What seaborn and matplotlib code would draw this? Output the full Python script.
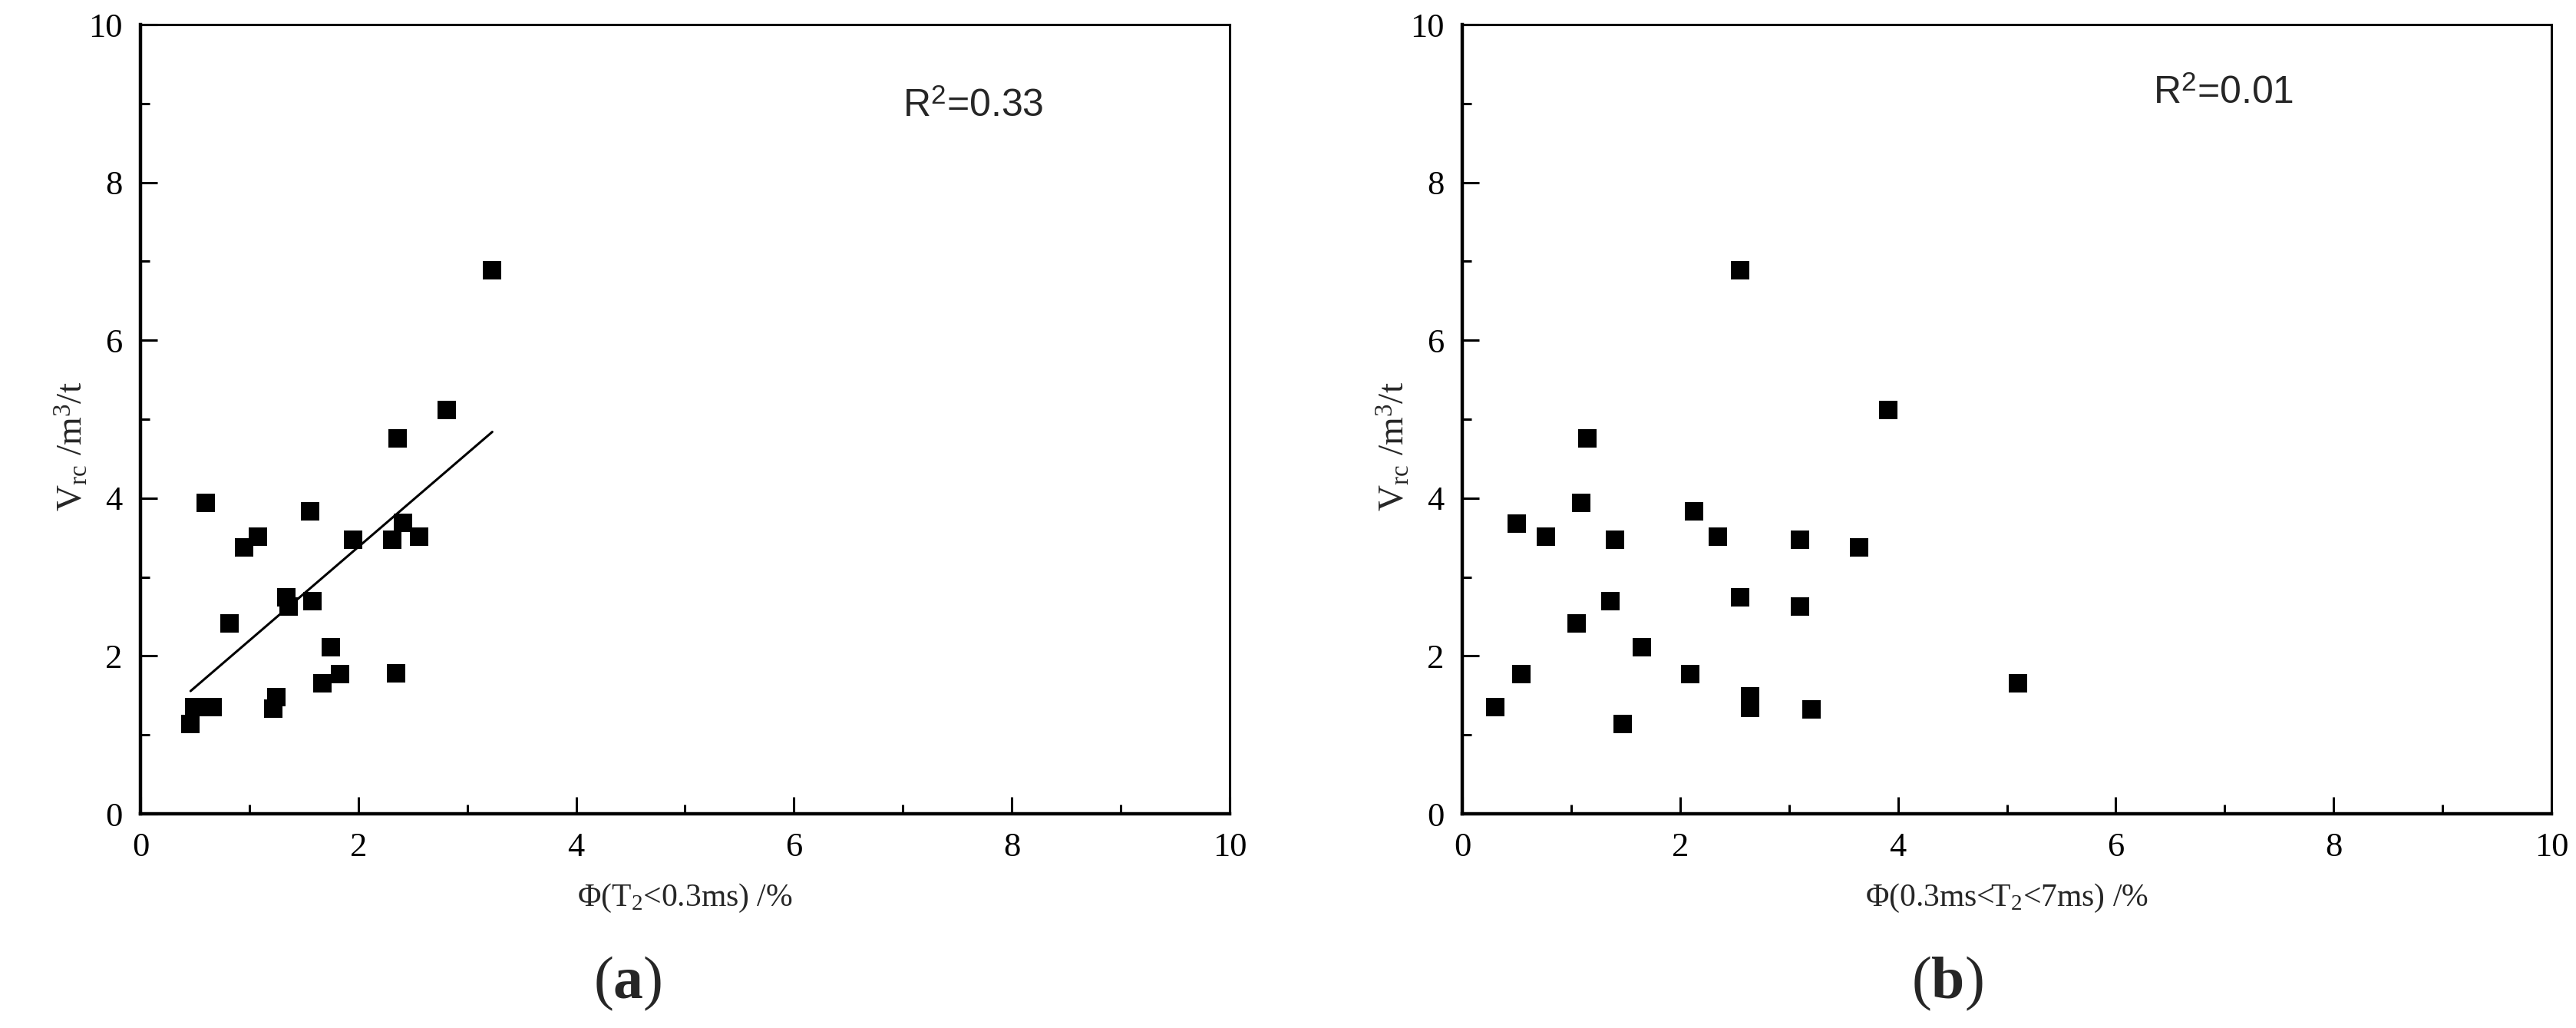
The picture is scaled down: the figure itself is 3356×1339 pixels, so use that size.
import numpy as np
import matplotlib
matplotlib.use("Agg")
import matplotlib.pyplot as plt
from matplotlib.ticker import MultipleLocator
import seaborn as sns
import pandas as pd

# values
vrc_a = [6.89, 5.12, 4.76, 3.94, 3.83, 3.69, 3.51, 3.38, 3.47, 3.47, 3.51, 2.74,
         2.63, 2.69, 2.41, 2.11, 1.77, 1.65, 1.78, 1.48, 1.33, 1.35, 1.35, 1.14]
phi_short = [3.23, 2.81, 2.36, 0.60, 1.56, 2.41, 1.08, 0.95, 1.95, 2.31, 2.56, 1.34,
             1.36, 1.58, 0.82, 1.75, 1.83, 1.67, 2.35, 1.25, 1.22, 0.49, 0.66, 0.46]

vrc_b = [6.89, 5.12, 4.76, 3.94, 3.83, 3.68, 3.51, 3.47, 3.51, 3.47, 3.38, 2.69,
         2.74, 2.63, 2.41, 2.11, 1.77, 1.77, 1.65, 1.49, 1.34, 1.32, 1.35, 1.14]
phi_mid = [2.55, 3.91, 1.15, 1.09, 2.13, 0.50, 0.77, 1.40, 2.35, 3.10, 3.64, 1.36,
           2.55, 3.10, 1.05, 1.65, 0.54, 2.09, 5.10, 2.64, 2.64, 3.21, 0.30, 1.47]

r2_labels = [r"R$^\mathsf{2}$=0.33", r"R$^\mathsf{2}$=0.01"]
x_labels = [r"Φ(T$_2$<0.3ms) /%", r"Φ(0.3ms<T$_2$<7ms) /%"]
captions = [r"$(\mathbf{a})$", r"$(\mathbf{b})$"]

df_a = pd.DataFrame({"x": phi_short, "y": vrc_a})
df_b = pd.DataFrame({"x": phi_mid, "y": vrc_b})

sns.set_style("ticks")
plt.rcParams["font.family"] = ["Liberation Serif", "DejaVu Serif"]
plt.rcParams["mathtext.fontset"] = "custom"
plt.rcParams["mathtext.rm"] = "Liberation Serif"
plt.rcParams["mathtext.it"] = "Liberation Serif:italic"
plt.rcParams["mathtext.bf"] = "Liberation Serif:bold"
plt.rcParams["mathtext.sf"] = "Liberation Sans"

fig = plt.figure(figsize=(33.56, 13.39), dpi=100)
W, H = 3356, 1339
ax_a = fig.add_axes([183 / W, 1 - 1060 / H, 1419 / W, 1028 / H])
ax_b = fig.add_axes([1905 / W, 1 - 1060 / H, 1419 / W, 1028 / H])

for ax, df, fit in [(ax_a, df_a, True), (ax_b, df_b, False)]:
    sns.scatterplot(data=df, x="x", y="y", ax=ax, marker="s", s=300,
                    color="black", linewidth=0, clip_on=False)
    if fit:
        sns.regplot(data=df, x="x", y="y", ax=ax, scatter=False, ci=None,
                    color="black", line_kws={"lw": 2.2})

for i, ax in enumerate([ax_a, ax_b]):
    ax.set_xlim(0, 10)
    ax.set_ylim(0, 10)
    ax.xaxis.set_major_locator(MultipleLocator(2))
    ax.xaxis.set_minor_locator(MultipleLocator(1))
    ax.yaxis.set_major_locator(MultipleLocator(2))
    ax.yaxis.set_minor_locator(MultipleLocator(1))
    ax.tick_params(which="both", direction="in", width=2.2, colors="black",
                   top=False, right=False, labelsize=32, pad=17)
    ax.tick_params(which="major", length=16)
    ax.tick_params(which="minor", length=8.5)
    for side in ["left", "bottom"]:
        ax.spines[side].set_linewidth(3.2)
    for side in ["top", "right"]:
        ax.spines[side].set_linewidth(2.2)
    for sp in ax.spines.values():
        sp.set_color("black")
    ax.set_xlabel(x_labels[i], fontsize=30, labelpad=18)
    ax.set_ylabel(r"$\mathrm{V_{rc}}$ /m$^{3}$/t", fontsize=34)
    ax.yaxis.set_label_coords(-0.046, 0.465)

ax_a.text(7.0, 8.83, r2_labels[0], fontsize=36, family=["Liberation Sans", "DejaVu Sans"],
          va="baseline", ha="left")
ax_b.text(6.34, 9.0, r2_labels[1], fontsize=36, family=["Liberation Sans", "DejaVu Sans"],
          va="baseline", ha="left")

fig.text(818 / W, 1 - 1281 / H, captions[0], fontsize=56, ha="center", va="center")
fig.text(2537 / W, 1 - 1281 / H, captions[1], fontsize=56, ha="center", va="center")

fig.savefig("out.png", dpi=100, facecolor="white")
